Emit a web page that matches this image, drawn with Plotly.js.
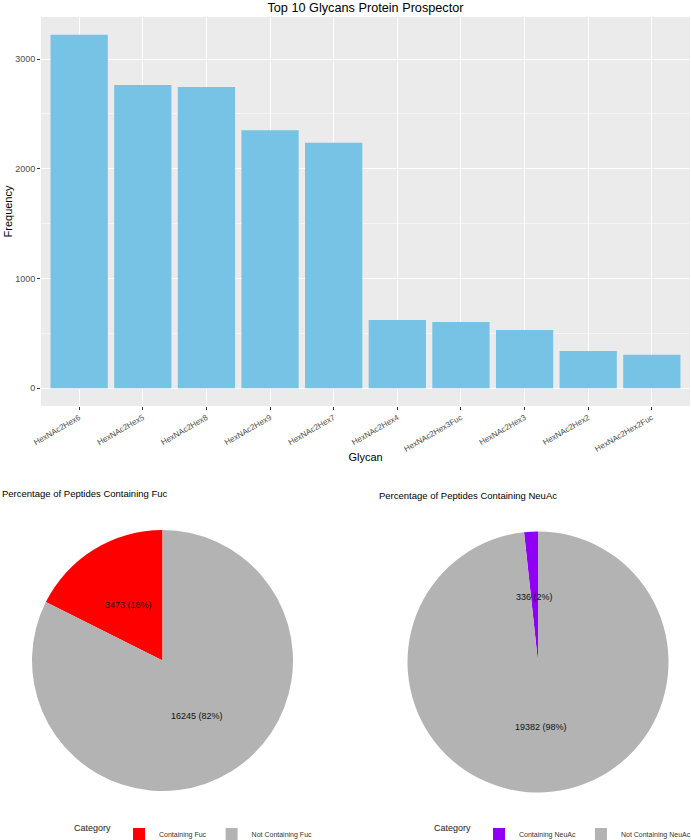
<!DOCTYPE html>
<html>
<head>
<meta charset="utf-8">
<script src="https://cdn.plot.ly/plotly-3.0.1.min.js"></script>
<style>html,body{margin:0;padding:0;background:#fff;}#chart{width:691px;height:840px;}</style>
</head>
<body>
<div id="chart"></div>
<script>
// ---- data ----
const glycans = ["HexNAc2Hex6","HexNAc2Hex5","HexNAc2Hex8","HexNAc2Hex9","HexNAc2Hex7",
                 "HexNAc2Hex4","HexNAc2Hex3Fuc","HexNAc2Hex3","HexNAc2Hex2","HexNAc2Hex2Fuc"];
const frequency = [3222, 2764, 2746, 2352, 2238, 622, 604, 531, 339, 305];

const fucLabels = ["Containing Fuc", "Not Containing Fuc"];
const fucCounts = [3473, 16245];
const neuLabels = ["Containing NeuAc", "Not Containing NeuAc"];
const neuCounts = [336, 19382];

const W = 691, H = 840;
const FONT = "Liberation Sans, Arial, sans-serif";

// pie geometry (pixels)
const pies = [
  {cx: 162.5, cy: 660.5, r: 130.5},
  {cx: 538,   cy: 662,   r: 130.5}
];
function dom(p) {
  return {
    x: [(p.cx - p.r) / W, (p.cx + p.r) / W],
    y: [1 - (p.cy + p.r) / H, 1 - (p.cy - p.r) / H]
  };
}
const sum = a => a.reduce((s, v) => s + v, 0);
// first slice ends at 12 o'clock (slices run counterclockwise from the top)
const startRot = counts => -360 * counts[0] / sum(counts);

// slice labels at half radius, mid-angle
function pieLabels(p, counts) {
  const total = sum(counts);
  let cum = 0;
  return counts.map(v => {
    const mid = (cum + v / 2) / total;
    cum += v;
    const ang = mid * 2 * Math.PI;
    const px = p.cx - Math.sin(ang) * p.r * 0.5;
    const py = p.cy - Math.cos(ang) * p.r * 0.5;
    return {
      x: px / W, y: 1 - py / H, xref: "paper", yref: "paper",
      xanchor: "center", yanchor: "middle",
      text: v + " (" + Math.round(100 * v / total) + "%)",
      showarrow: false, font: {family: FONT, size: 9, color: "#111"}
    };
  });
}

const traces = [
  {
    type: "bar", x: glycans, y: frequency, width: 0.9,
    marker: {color: "#77C3E5"}, showlegend: false, hoverinfo: "x+y"
  },
  {
    type: "pie", labels: fucLabels, values: fucCounts, sort: false,
    direction: "clockwise", rotation: startRot(fucCounts), domain: dom(pies[0]),
    marker: {colors: ["#FF0000", "#B3B3B3"]}, textinfo: "none",
    legend: "legend", showlegend: true
  },
  {
    type: "pie", labels: neuLabels, values: neuCounts, sort: false,
    direction: "clockwise", rotation: startRot(neuCounts), domain: dom(pies[1]),
    marker: {colors: ["#8F00F5", "#B3B3B3"]}, textinfo: "none",
    legend: "legend2", showlegend: true
  }
];

const legendCommon = {
  orientation: "h", xanchor: "left", yanchor: "middle",
  font: {family: FONT, size: 7, color: "#333"},
  title: {text: "Category", font: {family: FONT, size: 9, color: "#222"}, side: "left"},
  bgcolor: "rgba(0,0,0,0)", itemwidth: 30, tracegroupgap: 0
};

const layout = {
  width: W, height: H,
  margin: {l: 0, r: 0, t: 0, b: 0, autoexpand: false},
  paper_bgcolor: "#fff", plot_bgcolor: "#EBEBEB",
  font: {family: FONT},
  title: {
    text: "Top 10 Glycans Protein Prospector",
    x: 365.5 / W, xanchor: "center", xref: "paper",
    y: 1 - 8 / H, yanchor: "middle", yref: "paper",
    font: {family: FONT, size: 12.7, color: "#000"}
  },
  xaxis: {
    domain: [41 / W, 690 / W],
    range: [-0.6, 9.6],
    tickangle: -30,
    tickfont: {family: FONT, size: 8, color: "#4D4D4D"},
    ticks: "outside", ticklen: 3, tickcolor: "#333",
    showgrid: true, gridcolor: "#fff", gridwidth: 1,
    zeroline: false, showline: false,
    title: {text: "Glycan", font: {family: FONT, size: 11, color: "#000"}, standoff: 0},
    anchor: "y"
  },
  yaxis: {
    domain: [1 - 406 / H, 1 - 17 / H],
    range: [-162, 3384],
    tickvals: [0, 1000, 2000, 3000],
    tickfont: {family: FONT, size: 9, color: "#4D4D4D"},
    ticks: "outside", ticklen: 3, tickcolor: "#333",
    showgrid: true, gridcolor: "#fff", gridwidth: 1.1,
    minor: {tickvals: [500, 1500, 2500], showgrid: true, gridcolor: "#fff", gridwidth: 0.5, ticks: ""},
    zeroline: false, showline: false,
    title: {text: "Frequency", font: {family: FONT, size: 11, color: "#000"}, standoff: 0},
    anchor: "x"
  },
  legend: Object.assign({}, legendCommon, {x: 72 / W, y: 1 - 834 / H}),
  legend2: Object.assign({}, legendCommon, {x: 432 / W, y: 1 - 834 / H}),
  annotations: [
    {text: "Percentage of Peptides Containing Fuc", x: 0, y: 1 - 493 / H,
     xref: "paper", yref: "paper", xanchor: "left", yanchor: "middle", showarrow: false,
     font: {family: FONT, size: 9.5, color: "#000"}},
    {text: "Percentage of Peptides Containing NeuAc", x: 377 / W, y: 1 - 495 / H,
     xref: "paper", yref: "paper", xanchor: "left", yanchor: "middle", showarrow: false,
     font: {family: FONT, size: 9.5, color: "#000"}}
  ].concat(pieLabels(pies[0], fucCounts), pieLabels(pies[1], neuCounts)),
  showlegend: true
};

Plotly.newPlot("chart", traces, layout, {staticPlot: true, displayModeBar: false});
</script>
</body>
</html>
